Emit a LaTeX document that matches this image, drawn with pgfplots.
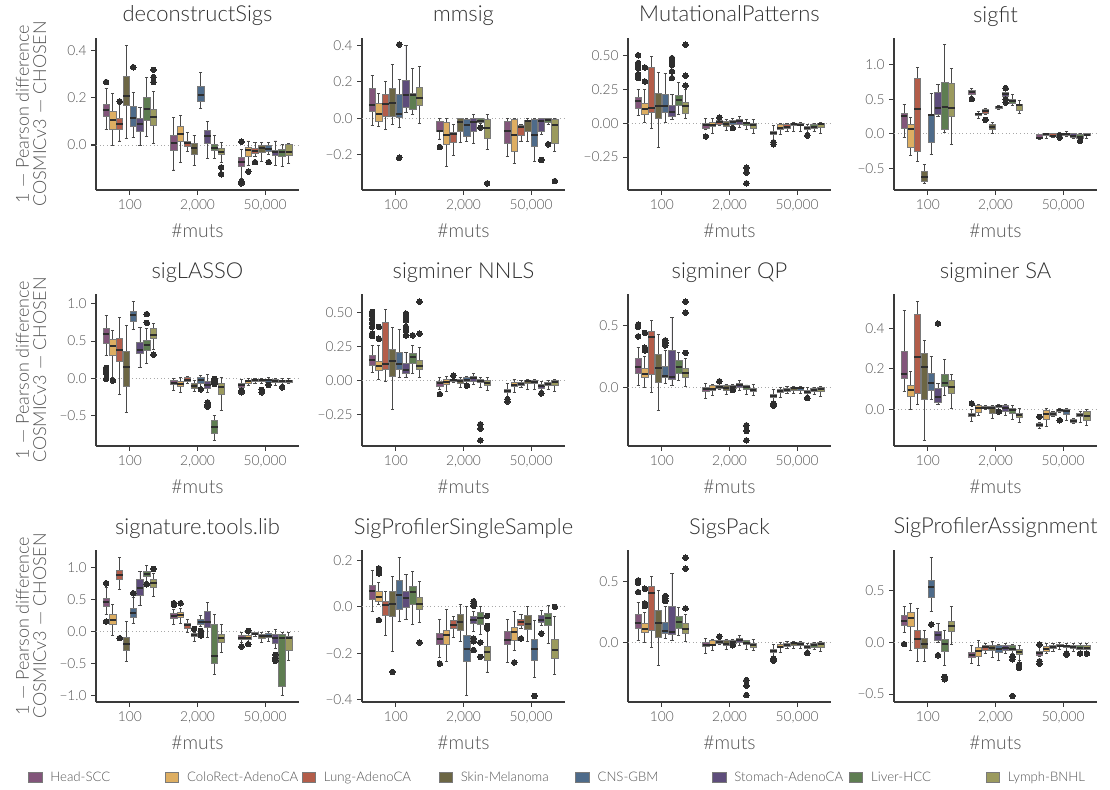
\documentclass[border=0pt]{standalone}
\usepackage{fontspec}
\setmainfont{Lato Light}
\usepackage{pgfplots}
\pgfplotsset{compat=1.18}
\usepgfplotslibrary{groupplots,statistics}
\usetikzlibrary{calc}

\definecolor{cA}{HTML}{82557A}
\definecolor{cB}{HTML}{DDAE62}
\definecolor{cC}{HTML}{B35D4A}
\definecolor{cD}{HTML}{6C6644}
\definecolor{cE}{HTML}{4E6B8A}
\definecolor{cF}{HTML}{5E4D7B}
\definecolor{cG}{HTML}{5E7D51}
\definecolor{cH}{HTML}{9B9A5E}
\definecolor{boxedge}{HTML}{7A7A7A}
\definecolor{whisk}{HTML}{4A4A4A}
\definecolor{medc}{HTML}{2E2E2E}
\definecolor{spine}{HTML}{3A3A3A}
\definecolor{ticktext}{HTML}{555555}
\definecolor{titletext}{HTML}{303030}
\definecolor{zerogray}{HTML}{A8A8A8}

\pgfplotsset{
  bxs/.style={forget plot, line width=0.6pt,
    boxplot/draw direction=y,
    boxplot/box extend=0.095, boxplot/whisker extend=0.045,
    boxplot/every box/.style={draw=boxedge},
    boxplot/every whisker/.style={draw=whisk, line width=0.7pt},
    boxplot/every median/.style={draw=medc, line width=1.5pt}},
  outl/.style={forget plot, only marks, mark=*, mark size=2.1pt,
    mark options={fill=medc, draw=medc, line width=0pt}},
  zeroline/.style={forget plot, draw=zerogray, dotted, line width=0.7pt},
}
% one box: position, colour, lower whisker, lower quartile, median, upper quartile, upper whisker
\newcommand{\bx}[7]{\addplot[bxs, fill=#2, boxplot prepared={draw position=#1,
  lower whisker=#3, lower quartile=#4, median=#5, upper quartile=#6, upper whisker=#7}] coordinates {};}
\newcommand{\zl}{\addplot[zeroline] coordinates {(-0.5,0) (2.5,0)};}

\begin{document}
\begin{tikzpicture}
\begin{groupplot}[
  group style={group name=G, group size=4 by 3, horizontal sep=47.25pt, vertical sep=78pt},
  scale only axis, width=152.25pt, height=114pt,
  xmin=-0.5, xmax=2.5, xtick={0,1,2}, xticklabels={100,{2,000},{50,000}},
  axis x line*=bottom, axis y line*=left,
  axis line style={-, draw=spine, line width=0.8pt},
  tick align=outside, major tick length=3.5pt,
  tick style={draw=spine, line width=0.8pt},
  minor tick num=0,
  tick label style={font=\fontsize{10.3}{12}\selectfont, text=ticktext},
  title style={font=\fontsize{16.5}{20}\selectfont, text=titletext, at={(axis description cs:0.5,1)}, anchor=base, yshift=6pt},
  xlabel style={font=\fontsize{14.5}{16}\selectfont, text=ticktext, yshift=-3pt},
  ylabel style={font=\fontsize{13.5}{13}\selectfont, text=ticktext, align=center, at={(axis description cs:-0.32,0.5)}, anchor=center},
  xlabel={\#muts},
]
% ---------------- deconstructSigs
\nextgroupplot[title={deconstructSigs}, ymin=-0.191, ymax=0.454, ytick={0,0.2,0.4}, yticklabels={0.0,0.2,0.4},
  ylabel={1 — Pearson difference\\COSMICv3 — CHOSEN}]
\zl
\bx{-0.35}{cA}{0.064}{0.12}{0.148}{0.172}{0.24}
\bx{-0.25}{cB}{-0.004}{0.066}{0.105}{0.144}{0.219}
\bx{-0.15}{cC}{0.017}{0.068}{0.088}{0.113}{0.17}
\bx{-0.05}{cD}{0.028}{0.17}{0.209}{0.29}{0.424}
\bx{0.05}{cE}{0.031}{0.081}{0.113}{0.163}{0.223}
\bx{0.15}{cF}{-0.004}{0.057}{0.088}{0.113}{0.158}
\bx{0.25}{cG}{0.038}{0.106}{0.153}{0.2}{0.288}
\bx{0.35}{cH}{0.007}{0.082}{0.117}{0.15}{0.226}
\bx{0.65}{cA}{-0.106}{-0.025}{0.007}{0.04}{0.116}
\bx{0.75}{cB}{-0.073}{0.017}{0.047}{0.079}{0.124}
\bx{0.85}{cC}{-0.027}{-0.008}{0.007}{0.017}{0.052}
\bx{0.95}{cD}{-0.085}{-0.042}{-0.014}{0.007}{0.042}
\bx{1.05}{cE}{0.155}{0.187}{0.212}{0.247}{0.307}
\bx{1.15}{cF}{-0.058}{0.007}{0.038}{0.061}{0.099}
\bx{1.25}{cG}{-0.057}{-0.025}{-0.011}{0.003}{0.042}
\bx{1.35}{cH}{-0.075}{-0.042}{-0.028}{-0.014}{0.011}
\bx{1.65}{cA}{-0.141}{-0.089}{-0.071}{-0.054}{-0.021}
\bx{1.75}{cB}{-0.085}{-0.047}{-0.021}{-0.011}{0.017}
\bx{1.85}{cC}{-0.049}{-0.035}{-0.024}{-0.014}{0.011}
\bx{1.95}{cD}{-0.068}{-0.031}{-0.014}{0.0}{0.01}
\bx{2.05}{cE}{-0.042}{-0.028}{-0.017}{0.0}{0.01}
\bx{2.15}{cF}{-0.088}{-0.045}{-0.028}{-0.021}{0.017}
\bx{2.25}{cG}{-0.092}{-0.049}{-0.028}{-0.017}{0.003}
\bx{2.35}{cH}{-0.078}{-0.045}{-0.028}{0.003}{0.007}
\addplot[outl] coordinates {(-0.35,0.267) (-0.15,0.185) (0.05,0.33) (0.35,0.319) (0.35,0.288) (0.35,0.267)
  (1.35,-0.095) (1.35,-0.124) (1.65,0.014) (1.65,-0.155) (1.65,-0.163) (1.75,-0.113) (1.85,-0.073) (2.05,-0.073)};
% ---------------- mmsig
\nextgroupplot[title={mmsig}, ymin=-0.394, ymax=0.44, ytick={-0.2,0,0.2,0.4}, yticklabels={−0.2,0.0,0.2,0.4}]
\zl
\bx{-0.35}{cA}{-0.04}{0.037}{0.07}{0.165}{0.235}
\bx{-0.25}{cB}{-0.046}{-0.015}{0.024}{0.079}{0.138}
\bx{-0.15}{cC}{-0.061}{0.009}{0.077}{0.128}{0.202}
\bx{-0.05}{cD}{-0.033}{0.009}{0.083}{0.161}{0.297}
\bx{0.05}{cE}{-0.051}{0.004}{0.024}{0.128}{0.213}
\bx{0.15}{cF}{0.033}{0.059}{0.128}{0.206}{0.4}
\bx{0.25}{cG}{0.022}{0.048}{0.125}{0.138}{0.275}
\bx{0.35}{cH}{-0.028}{0.068}{0.11}{0.169}{0.284}
\bx{0.65}{cA}{-0.114}{-0.073}{-0.07}{-0.018}{0.0}
\bx{0.75}{cB}{-0.266}{-0.143}{-0.092}{-0.022}{0.0}
\bx{0.85}{cC}{-0.202}{-0.132}{-0.088}{-0.079}{-0.037}
\bx{0.95}{cD}{-0.132}{-0.073}{-0.022}{0.0}{0.0}
\bx{1.05}{cE}{-0.128}{-0.101}{-0.04}{-0.004}{0.0}
\bx{1.15}{cF}{-0.138}{-0.073}{-0.022}{0.0}{0.018}
\bx{1.25}{cG}{-0.029}{-0.022}{-0.015}{0.0}{0.0}
\bx{1.35}{cH}{-0.174}{-0.11}{-0.055}{-0.004}{0.018}
\bx{1.65}{cA}{-0.211}{-0.138}{-0.07}{-0.018}{0.0}
\bx{1.75}{cB}{-0.248}{-0.183}{-0.092}{-0.004}{0.0}
\bx{1.85}{cC}{-0.125}{-0.092}{-0.051}{-0.037}{-0.033}
\bx{1.95}{cD}{-0.128}{-0.073}{-0.018}{-0.013}{0.0}
\bx{2.05}{cE}{-0.235}{-0.156}{-0.092}{-0.004}{0.0}
\bx{2.15}{cF}{-0.092}{-0.07}{-0.015}{0.0}{0.0}
\bx{2.25}{cG}{-0.037}{-0.022}{-0.009}{0.0}{0.0}
\bx{2.35}{cH}{-0.183}{-0.138}{-0.04}{-0.009}{0.0}
\addplot[outl] coordinates {(0.05,0.404) (0.05,-0.217) (0.65,-0.158) (1.25,-0.051) (1.35,-0.358)
  (2.15,-0.229) (2.25,-0.143) (2.35,-0.345)};
% ---------------- MutationalPatterns
\nextgroupplot[title={MutationalPatterns}, ymin=-0.492, ymax=0.627, ytick={-0.25,0,0.25,0.5}, yticklabels={−0.25,0.00,0.25,0.50}]
\zl
\bx{-0.35}{cA}{0.054}{0.111}{0.16}{0.189}{0.25}
\bx{-0.25}{cB}{0.007}{0.066}{0.106}{0.148}{0.246}
\bx{-0.15}{cC}{-0.037}{0.081}{0.111}{0.413}{0.492}
\bx{-0.05}{cD}{-0.18}{0.032}{0.123}{0.221}{0.376}
\bx{0.05}{cE}{0.007}{0.081}{0.123}{0.209}{0.369}
\bx{0.15}{cF}{0.025}{0.049}{0.081}{0.13}{0.209}
\bx{0.25}{cG}{0.061}{0.13}{0.172}{0.204}{0.302}
\bx{0.35}{cH}{0.037}{0.074}{0.123}{0.155}{0.246}
\bx{0.65}{cA}{-0.049}{-0.037}{-0.017}{0.0}{0.032}
\bx{0.75}{cB}{-0.079}{-0.025}{-0.017}{0.007}{0.032}
\bx{0.85}{cC}{-0.017}{-0.007}{0.007}{0.017}{0.022}
\bx{0.95}{cD}{-0.057}{-0.022}{-0.007}{0.012}{0.03}
\bx{1.05}{cE}{-0.017}{-0.007}{0.007}{0.017}{0.032}
\bx{1.15}{cF}{-0.032}{-0.007}{0.017}{0.025}{0.049}
\bx{1.25}{cG}{-0.049}{-0.017}{0.0}{0.007}{0.025}
\bx{1.35}{cH}{-0.074}{-0.037}{-0.017}{0.0}{0.025}
\bx{1.65}{cA}{-0.13}{-0.086}{-0.074}{-0.061}{-0.017}
\bx{1.75}{cB}{-0.086}{-0.049}{-0.032}{-0.012}{0.0}
\bx{1.85}{cC}{-0.061}{-0.037}{-0.025}{-0.012}{0.0}
\bx{1.95}{cD}{-0.061}{-0.017}{-0.007}{0.0}{0.005}
\bx{2.05}{cE}{-0.061}{-0.017}{-0.012}{0.0}{0.005}
\bx{2.15}{cF}{-0.066}{-0.049}{-0.037}{-0.025}{-0.012}
\bx{2.25}{cG}{-0.061}{-0.037}{-0.025}{-0.012}{0.0}
\bx{2.35}{cH}{-0.079}{-0.032}{-0.007}{0.0}{0.005}
\addplot[outl] coordinates {(-0.35,0.5) (-0.35,0.443) (-0.35,0.418) (-0.35,0.406) (-0.35,0.361) (-0.35,0.344) (-0.35,0.332)
  (-0.25,0.41) (-0.25,0.307) (0.15,0.479) (0.15,0.46) (0.15,0.43) (0.15,0.381) (0.15,0.332)
  (0.35,0.578) (0.35,0.349) (0.35,0.278) (0.65,-0.098) (0.85,0.042) (1.05,-0.037)
  (1.25,-0.327) (1.25,-0.364) (1.25,-0.443) (1.65,-0.14) (1.65,-0.155) (2.15,-0.091)};
% ---------------- sigfit
\nextgroupplot[title={sigfit}, ymin=-0.81, ymax=1.384, ytick={-0.5,0,0.5,1}, yticklabels={−0.5,0.0,0.5,1.0}]
\zl
\bx{-0.35}{cA}{-0.048}{0.082}{0.251}{0.299}{0.43}
\bx{-0.25}{cB}{-0.314}{-0.193}{0.068}{0.14}{0.236}
\bx{-0.15}{cC}{-0.4}{-0.246}{0.362}{0.806}{0.96}
\bx{-0.05}{cD}{-0.714}{-0.68}{-0.617}{-0.545}{-0.439}
\bx{0.05}{cE}{-0.304}{-0.121}{0.275}{0.285}{0.589}
\bx{0.15}{cF}{0.251}{0.275}{0.371}{0.603}{0.719}
\bx{0.25}{cG}{0.024}{0.058}{0.386}{0.743}{1.288}
\bx{0.35}{cH}{-0.15}{0.251}{0.371}{0.733}{0.941}
\bx{0.65}{cA}{0.54}{0.574}{0.603}{0.622}{0.661}
\bx{0.75}{cB}{0.227}{0.265}{0.285}{0.299}{0.323}
\bx{0.85}{cC}{0.275}{0.299}{0.333}{0.347}{0.362}
\bx{0.95}{cD}{0.01}{0.058}{0.106}{0.14}{0.169}
\bx{1.05}{cE}{0.347}{0.362}{0.381}{0.396}{0.405}
\bx{1.15}{cF}{0.516}{0.54}{0.574}{0.603}{0.62}
\bx{1.25}{cG}{0.41}{0.444}{0.478}{0.492}{0.564}
\bx{1.35}{cH}{0.299}{0.333}{0.41}{0.429}{0.482}
\bx{1.65}{cA}{-0.087}{-0.072}{-0.053}{-0.014}{-0.005}
\bx{1.75}{cB}{-0.072}{-0.029}{-0.005}{0.01}{0.01}
\bx{1.85}{cC}{-0.053}{-0.043}{-0.024}{0.0}{0.005}
\bx{1.95}{cD}{-0.045}{-0.029}{-0.005}{0.005}{0.019}
\bx{2.05}{cE}{-0.043}{-0.024}{-0.005}{0.005}{0.034}
\bx{2.15}{cF}{-0.072}{-0.053}{-0.024}{0.0}{0.005}
\bx{2.25}{cG}{-0.085}{-0.063}{-0.039}{-0.014}{0.005}
\bx{2.35}{cH}{-0.072}{-0.029}{-0.014}{0.0}{0.01}
\addplot[outl] coordinates {(0.65,0.502) (0.85,0.203) (1.15,0.661) (1.15,0.5) (1.15,0.453) (1.95,-0.053) (2.25,-0.101)};
% ---------------- sigLASSO
\nextgroupplot[title={sigLASSO}, ymin=-0.913, ymax=1.134, ytick={-0.5,0,0.5,1}, yticklabels={−0.5,0.0,0.5,1.0},
  ylabel={1 — Pearson difference\\COSMICv3 — CHOSEN}]
\zl
\bx{-0.35}{cA}{0.307}{0.465}{0.601}{0.669}{0.84}
\bx{-0.25}{cB}{0.005}{0.307}{0.429}{0.52}{0.637}
\bx{-0.15}{cC}{-0.221}{0.226}{0.384}{0.533}{0.813}
\bx{-0.05}{cD}{-0.461}{-0.104}{0.149}{0.366}{0.714}
\bx{0.05}{cE}{0.655}{0.768}{0.85}{0.895}{1.03}
\bx{0.15}{cF}{0.149}{0.339}{0.384}{0.488}{0.682}
\bx{0.25}{cG}{0.203}{0.375}{0.452}{0.511}{0.669}
\bx{0.35}{cH}{0.384}{0.533}{0.578}{0.669}{0.737}
\bx{0.65}{cA}{-0.167}{-0.086}{-0.068}{-0.032}{0.0}
\bx{0.75}{cB}{-0.19}{-0.108}{-0.077}{-0.041}{0.014}
\bx{0.85}{cC}{-0.068}{-0.041}{-0.023}{0.005}{0.023}
\bx{0.95}{cD}{-0.176}{-0.131}{-0.099}{-0.068}{-0.032}
\bx{1.05}{cE}{-0.122}{-0.068}{-0.023}{0.005}{0.036}
\bx{1.15}{cF}{-0.19}{-0.131}{-0.086}{-0.041}{0.05}
\bx{1.25}{cG}{-0.836}{-0.746}{-0.655}{-0.565}{-0.506}
\bx{1.35}{cH}{-0.438}{-0.221}{-0.122}{-0.068}{0.014}
\bx{1.65}{cA}{-0.14}{-0.122}{-0.09}{-0.068}{-0.023}
\bx{1.75}{cB}{-0.099}{-0.068}{-0.041}{-0.023}{-0.009}
\bx{1.85}{cC}{-0.068}{-0.041}{-0.023}{-0.014}{-0.009}
\bx{1.95}{cD}{-0.077}{-0.041}{-0.023}{-0.014}{-0.009}
\bx{2.05}{cE}{-0.077}{-0.054}{-0.023}{-0.014}{0.005}
\bx{2.15}{cF}{-0.099}{-0.054}{-0.032}{-0.014}{-0.009}
\bx{2.25}{cG}{-0.086}{-0.059}{-0.041}{-0.023}{-0.009}
\bx{2.35}{cH}{-0.077}{-0.054}{-0.032}{-0.023}{-0.009}
\addplot[outl] coordinates {(-0.35,0.14) (-0.35,0.104) (-0.35,0.068) (-0.35,-0.009) (-0.25,-0.032)
  (0.25,0.863) (0.25,0.746) (0.35,0.316) (1.05,-0.149) (1.15,-0.325) (1.15,-0.357) (1.15,-0.384)
  (1.25,-0.009) (1.25,-0.032) (1.25,-0.054) (1.25,-0.077)
  (1.65,-0.167) (1.65,-0.19) (1.95,-0.158) (1.95,-0.19) (2.05,-0.09) (2.25,-0.122)};
% ---------------- sigminer NNLS
\nextgroupplot[title={sigminer NNLS}, ymin=-0.481, ymax=0.637, ytick={-0.25,0,0.25,0.5}, yticklabels={−0.25,0.00,0.25,0.50}]
\zl
\bx{-0.35}{cA}{0.062}{0.111}{0.153}{0.185}{0.259}
\bx{-0.25}{cB}{0.005}{0.074}{0.111}{0.143}{0.259}
\bx{-0.15}{cC}{-0.005}{0.086}{0.123}{0.427}{0.523}
\bx{-0.05}{cD}{-0.21}{0.03}{0.143}{0.227}{0.39}
\bx{0.05}{cE}{0.02}{0.086}{0.123}{0.21}{0.375}
\bx{0.15}{cF}{0.02}{0.054}{0.079}{0.123}{0.21}
\bx{0.25}{cG}{0.049}{0.128}{0.173}{0.197}{0.259}
\bx{0.35}{cH}{0.02}{0.079}{0.111}{0.148}{0.242}
\bx{0.65}{cA}{-0.062}{-0.044}{-0.02}{-0.005}{0.025}
\bx{0.75}{cB}{-0.079}{-0.03}{-0.012}{0.012}{0.03}
\bx{0.85}{cC}{-0.015}{-0.005}{0.005}{0.012}{0.02}
\bx{0.95}{cD}{-0.054}{-0.02}{-0.005}{0.012}{0.02}
\bx{1.05}{cE}{-0.02}{-0.005}{0.005}{0.02}{0.03}
\bx{1.15}{cF}{-0.03}{-0.005}{0.02}{0.03}{0.049}
\bx{1.25}{cG}{-0.049}{-0.012}{0.0}{0.012}{0.02}
\bx{1.35}{cH}{-0.074}{-0.037}{-0.02}{0.0}{0.02}
\bx{1.65}{cA}{-0.123}{-0.086}{-0.074}{-0.062}{-0.02}
\bx{1.75}{cB}{-0.086}{-0.044}{-0.03}{-0.012}{0.005}
\bx{1.85}{cC}{-0.054}{-0.037}{-0.025}{-0.012}{0.0}
\bx{1.95}{cD}{-0.062}{-0.02}{-0.005}{0.0}{0.005}
\bx{2.05}{cE}{-0.062}{-0.02}{-0.01}{0.0}{0.005}
\bx{2.15}{cF}{-0.074}{-0.054}{-0.037}{-0.025}{-0.005}
\bx{2.25}{cG}{-0.062}{-0.037}{-0.025}{-0.012}{0.0}
\bx{2.35}{cH}{-0.079}{-0.037}{-0.012}{0.0}{0.005}
\addplot[outl] coordinates {(-0.35,0.506) (-0.35,0.481) (-0.35,0.456) (-0.35,0.424) (-0.35,0.395) (-0.35,0.345) (-0.35,0.328)
  (-0.25,0.395) (-0.25,0.308) (0.15,0.493) (0.15,0.469) (0.15,0.444) (0.15,0.395) (0.15,0.37) (0.15,0.333)
  (0.25,0.333) (0.35,0.58) (0.35,0.345) (0.65,-0.099) (0.85,0.037) (1.05,-0.037)
  (1.25,-0.321) (1.25,-0.353) (1.25,-0.439) (1.65,-0.136) (1.65,-0.153) (2.15,-0.094)};
% ---------------- sigminer QP
\nextgroupplot[title={sigminer QP}, ymin=-0.478, ymax=0.76, ytick={0,0.5}, yticklabels={0.0,0.5}]
\zl
\bx{-0.35}{cA}{0.014}{0.115}{0.164}{0.232}{0.328}
\bx{-0.25}{cB}{0.0}{0.082}{0.109}{0.156}{0.251}
\bx{-0.15}{cC}{-0.041}{0.104}{0.41}{0.459}{0.541}
\bx{-0.05}{cD}{-0.191}{0.041}{0.158}{0.265}{0.432}
\bx{0.05}{cE}{0.033}{0.077}{0.096}{0.169}{0.3}
\bx{0.15}{cF}{0.016}{0.063}{0.087}{0.3}{0.568}
\bx{0.25}{cG}{0.055}{0.115}{0.169}{0.219}{0.287}
\bx{0.35}{cH}{0.005}{0.077}{0.115}{0.156}{0.232}
\bx{0.65}{cA}{-0.087}{-0.033}{-0.016}{0.0}{0.033}
\bx{0.75}{cB}{-0.068}{-0.027}{-0.016}{0.014}{0.027}
\bx{0.85}{cC}{-0.016}{-0.005}{0.005}{0.014}{0.019}
\bx{0.95}{cD}{-0.055}{-0.027}{-0.008}{0.014}{0.022}
\bx{1.05}{cE}{-0.016}{-0.005}{0.005}{0.019}{0.027}
\bx{1.15}{cF}{-0.027}{0.0}{0.022}{0.033}{0.055}
\bx{1.25}{cG}{-0.055}{-0.019}{0.0}{0.014}{0.019}
\bx{1.35}{cH}{-0.068}{-0.036}{-0.019}{-0.005}{0.027}
\bx{1.65}{cA}{-0.123}{-0.082}{-0.068}{-0.055}{-0.014}
\bx{1.75}{cB}{-0.082}{-0.041}{-0.033}{-0.016}{0.0}
\bx{1.85}{cC}{-0.049}{-0.033}{-0.022}{-0.005}{0.005}
\bx{1.95}{cD}{-0.049}{-0.022}{-0.005}{0.0}{0.005}
\bx{2.05}{cE}{-0.049}{-0.022}{-0.008}{0.0}{0.005}
\bx{2.15}{cF}{-0.068}{-0.049}{-0.036}{-0.022}{-0.005}
\bx{2.25}{cG}{-0.06}{-0.036}{-0.022}{-0.008}{0.0}
\bx{2.35}{cH}{-0.077}{-0.036}{-0.014}{0.0}{0.005}
\addplot[outl] coordinates {(-0.35,0.511) (-0.35,0.492) (-0.35,0.415) (-0.25,0.443) (-0.25,0.322) (-0.25,0.3)
  (0.05,0.383) (0.05,0.361) (0.05,0.342) (0.35,0.697) (0.35,0.607) (0.35,0.281)
  (0.85,0.049) (1.05,-0.022) (1.25,-0.309) (1.25,-0.355) (1.25,-0.432) (1.65,-0.131) (1.65,-0.15) (2.15,-0.087)};
% ---------------- sigminer SA
\nextgroupplot[title={sigminer SA}, ymin=-0.183, ymax=0.572, ytick={0,0.2,0.4}, yticklabels={0.0,0.2,0.4}]
\zl
\bx{-0.35}{cA}{0.088}{0.155}{0.175}{0.288}{0.488}
\bx{-0.25}{cB}{-0.003}{0.062}{0.095}{0.12}{0.187}
\bx{-0.15}{cC}{0.022}{0.078}{0.258}{0.472}{0.533}
\bx{-0.05}{cD}{-0.155}{0.05}{0.208}{0.275}{0.342}
\bx{0.05}{cE}{0.05}{0.092}{0.128}{0.18}{0.263}
\bx{0.15}{cF}{0.022}{0.033}{0.058}{0.103}{0.128}
\bx{0.25}{cG}{0.067}{0.112}{0.128}{0.172}{0.247}
\bx{0.35}{cH}{0.005}{0.078}{0.112}{0.145}{0.172}
\bx{0.65}{cA}{-0.062}{-0.038}{-0.03}{-0.022}{0.0}
\bx{0.75}{cB}{-0.033}{-0.017}{0.008}{0.017}{0.025}
\bx{0.85}{cC}{0.0}{0.005}{0.008}{0.013}{0.017}
\bx{0.95}{cD}{-0.045}{-0.022}{0.008}{0.013}{0.017}
\bx{1.05}{cE}{0.0}{0.008}{0.017}{0.017}{0.025}
\bx{1.15}{cF}{-0.033}{-0.012}{0.008}{0.02}{0.025}
\bx{1.25}{cG}{-0.05}{-0.022}{-0.005}{0.005}{0.017}
\bx{1.35}{cH}{-0.067}{-0.042}{-0.028}{-0.022}{0.005}
\bx{1.65}{cA}{-0.095}{-0.088}{-0.08}{-0.072}{-0.067}
\bx{1.75}{cB}{-0.088}{-0.05}{-0.022}{-0.005}{0.005}
\bx{1.85}{cC}{-0.038}{-0.033}{-0.025}{-0.017}{-0.012}
\bx{1.95}{cD}{-0.017}{-0.012}{-0.005}{0.0}{0.005}
\bx{2.05}{cE}{-0.055}{-0.025}{-0.008}{0.0}{0.005}
\bx{2.15}{cF}{-0.072}{-0.067}{-0.058}{-0.05}{-0.045}
\bx{2.25}{cG}{-0.067}{-0.038}{-0.028}{-0.022}{-0.012}
\bx{2.35}{cH}{-0.083}{-0.055}{-0.033}{-0.012}{0.0}
\addplot[outl] coordinates {(0.15,0.425) (0.65,0.028) (1.05,-0.012) (1.65,-0.038) (1.95,-0.055)};
% ---------------- signature.tools.lib
\nextgroupplot[title={signature.tools.lib}, ymin=-1.104, ymax=1.276, ytick={-1,-0.5,0,0.5,1}, yticklabels={−1.0,−0.5,0.0,0.5,1.0},
  ylabel={1 — Pearson difference\\COSMICv3 — CHOSEN},
  legend style={at={(axis description cs:-0.335,-0.5)}, anchor=west, draw=none, fill=none, inner sep=0pt,
    legend columns=8, font=\fontsize{9.9}{11}\selectfont, text=ticktext,
    /tikz/every odd column/.append style={column sep=4pt},
    /tikz/every even column/.append style={column sep=0pt}},
  legend cell align=left,
  legend image code/.code={\draw[#1, draw=boxedge, line width=0.6pt] (0pt,-3.6pt) rectangle (10pt,4pt);}]
\addlegendimage{fill=cA}\addlegendentry{\makebox[84pt][l]{Head-SCC}}
\addlegendimage{fill=cB}\addlegendentry{\makebox[84pt][l]{ColoRect-AdenoCA}}
\addlegendimage{fill=cC}\addlegendentry{\makebox[84pt][l]{Lung-AdenoCA}}
\addlegendimage{fill=cD}\addlegendentry{\makebox[84pt][l]{Skin-Melanoma}}
\addlegendimage{fill=cE}\addlegendentry{\makebox[84pt][l]{CNS-GBM}}
\addlegendimage{fill=cF}\addlegendentry{\makebox[84pt][l]{Stomach-AdenoCA}}
\addlegendimage{fill=cG}\addlegendentry{\makebox[84pt][l]{Liver-HCC}}
\addlegendimage{fill=cH}\addlegendentry{Lymph-BNHL}
\zl
\bx{-0.35}{cA}{0.271}{0.391}{0.469}{0.521}{0.688}
\bx{-0.25}{cB}{-0.063}{0.115}{0.182}{0.26}{0.427}
\bx{-0.15}{cC}{0.651}{0.818}{0.885}{0.964}{1.156}
\bx{-0.05}{cD}{-0.469}{-0.302}{-0.198}{-0.094}{0.156}
\bx{0.05}{cE}{0.13}{0.219}{0.286}{0.365}{0.531}
\bx{0.15}{cF}{0.406}{0.573}{0.688}{0.823}{0.938}
\bx{0.25}{cG}{0.79}{0.859}{0.896}{0.938}{1.031}
\bx{0.35}{cH}{0.547}{0.688}{0.755}{0.818}{0.911}
\bx{0.65}{cA}{0.104}{0.208}{0.25}{0.286}{0.339}
\bx{0.75}{cB}{0.13}{0.219}{0.26}{0.297}{0.36}
\bx{0.85}{cC}{-0.01}{0.052}{0.094}{0.12}{0.182}
\bx{0.95}{cD}{-0.156}{-0.078}{-0.052}{-0.026}{-0.01}
\bx{1.05}{cE}{0.078}{0.115}{0.146}{0.182}{0.245}
\bx{1.15}{cF}{-0.094}{0.063}{0.146}{0.313}{0.458}
\bx{1.25}{cG}{-0.677}{-0.495}{-0.391}{0.104}{0.271}
\bx{1.35}{cH}{-0.323}{-0.167}{-0.104}{-0.042}{0.104}
\bx{1.65}{cA}{-0.167}{-0.13}{-0.094}{-0.063}{-0.01}
\bx{1.75}{cB}{-0.167}{-0.13}{-0.094}{-0.063}{-0.01}
\bx{1.85}{cC}{-0.073}{-0.052}{-0.042}{-0.021}{-0.01}
\bx{1.95}{cD}{-0.167}{-0.115}{-0.078}{-0.042}{-0.01}
\bx{2.05}{cE}{-0.156}{-0.094}{-0.063}{-0.026}{0.0}
\bx{2.15}{cF}{-0.26}{-0.182}{-0.104}{-0.042}{0.026}
\bx{2.25}{cG}{-1.0}{-0.859}{-0.094}{-0.052}{-0.01}
\bx{2.35}{cH}{-0.458}{-0.302}{-0.104}{-0.078}{-0.01}
\addplot[outl] coordinates {(-0.35,0.755) (-0.35,0.156) (-0.15,-0.104) (0.05,0.599) (0.25,0.74) (0.35,0.979)
  (0.65,0.443) (0.65,0.417) (0.75,0.443) (0.95,0.042) (1.05,0.01) (1.05,-0.042) (1.05,-0.063)
  (1.65,-0.234) (1.75,0.01) (1.75,-0.198) (2.15,-0.365) (2.15,-0.417) (2.15,-0.458)};
% ---------------- SigProfilerSingleSample
\nextgroupplot[title={SigProfilerSingleSample}, ymin=-0.409, ymax=0.244, ytick={-0.4,-0.2,0,0.2}, yticklabels={−0.4,−0.2,0.0,0.2}]
\zl
\bx{-0.35}{cA}{-0.019}{0.033}{0.067}{0.09}{0.158}
\bx{-0.25}{cB}{0.01}{0.022}{0.043}{0.067}{0.105}
\bx{-0.15}{cC}{-0.125}{-0.039}{0.007}{0.024}{0.067}
\bx{-0.05}{cD}{-0.191}{-0.04}{0.014}{0.065}{0.129}
\bx{0.05}{cE}{-0.065}{-0.01}{0.05}{0.115}{0.211}
\bx{0.15}{cF}{-0.053}{-0.003}{0.039}{0.065}{0.139}
\bx{0.25}{cG}{-0.076}{0.01}{0.062}{0.086}{0.153}
\bx{0.35}{cH}{-0.067}{-0.01}{0.011}{0.039}{0.108}
\bx{0.65}{cA}{-0.219}{-0.162}{-0.139}{-0.115}{-0.053}
\bx{0.75}{cB}{-0.234}{-0.162}{-0.122}{-0.1}{-0.01}
\bx{0.85}{cC}{-0.133}{-0.093}{-0.079}{-0.057}{-0.043}
\bx{0.95}{cD}{-0.151}{-0.1}{-0.067}{-0.033}{0.01}
\bx{1.05}{cE}{-0.38}{-0.234}{-0.182}{-0.122}{0.0}
\bx{1.15}{cF}{-0.105}{-0.072}{-0.057}{-0.043}{-0.019}
\bx{1.25}{cG}{-0.119}{-0.076}{-0.047}{-0.024}{0.0}
\bx{1.35}{cH}{-0.28}{-0.229}{-0.196}{-0.172}{-0.105}
\bx{1.65}{cA}{-0.239}{-0.162}{-0.143}{-0.105}{-0.053}
\bx{1.75}{cB}{-0.186}{-0.143}{-0.11}{-0.09}{-0.022}
\bx{1.85}{cC}{-0.093}{-0.079}{-0.065}{-0.053}{-0.033}
\bx{1.95}{cD}{-0.151}{-0.096}{-0.072}{-0.039}{0.0}
\bx{2.05}{cE}{-0.305}{-0.229}{-0.182}{-0.139}{-0.057}
\bx{2.15}{cF}{-0.079}{-0.067}{-0.057}{-0.039}{-0.014}
\bx{2.25}{cG}{-0.158}{-0.079}{-0.047}{-0.029}{0.004}
\bx{2.35}{cH}{-0.291}{-0.222}{-0.186}{-0.139}{-0.043}
\addplot[outl] coordinates {(-0.25,0.165) (-0.25,0.153) (-0.25,0.143) (-0.25,-0.057) (-0.05,-0.28) (0.35,-0.153)
  (0.65,-0.244) (1.15,0.024) (1.15,0.014) (1.15,0.004) (1.15,-0.136) (1.15,-0.148) (1.15,-0.186)
  (1.25,-0.153) (1.25,-0.215) (1.35,-0.039) (1.35,-0.082) (1.35,-0.093)
  (1.75,-0.239) (1.85,-0.136) (2.05,-0.383) (2.15,-0.115) (2.35,0.0)};
% ---------------- SigsPack
\nextgroupplot[title={SigsPack}, ymin=-0.489, ymax=0.761, ytick={0,0.5}, yticklabels={0.0,0.5}]
\zl
\bx{-0.35}{cA}{0.014}{0.115}{0.164}{0.232}{0.328}
\bx{-0.25}{cB}{0.0}{0.082}{0.109}{0.156}{0.251}
\bx{-0.15}{cC}{-0.041}{0.104}{0.41}{0.459}{0.541}
\bx{-0.05}{cD}{-0.191}{0.041}{0.158}{0.265}{0.432}
\bx{0.05}{cE}{0.033}{0.077}{0.096}{0.169}{0.3}
\bx{0.15}{cF}{0.016}{0.063}{0.087}{0.3}{0.568}
\bx{0.25}{cG}{0.055}{0.115}{0.169}{0.219}{0.287}
\bx{0.35}{cH}{0.005}{0.077}{0.115}{0.156}{0.232}
\bx{0.65}{cA}{-0.087}{-0.033}{-0.016}{0.0}{0.033}
\bx{0.75}{cB}{-0.068}{-0.027}{-0.016}{0.014}{0.027}
\bx{0.85}{cC}{-0.016}{-0.005}{0.005}{0.014}{0.019}
\bx{0.95}{cD}{-0.055}{-0.027}{-0.008}{0.014}{0.022}
\bx{1.05}{cE}{-0.016}{-0.005}{0.005}{0.019}{0.027}
\bx{1.15}{cF}{-0.027}{0.0}{0.022}{0.033}{0.055}
\bx{1.25}{cG}{-0.055}{-0.019}{0.0}{0.014}{0.019}
\bx{1.35}{cH}{-0.068}{-0.036}{-0.019}{-0.005}{0.027}
\bx{1.65}{cA}{-0.123}{-0.082}{-0.068}{-0.055}{-0.014}
\bx{1.75}{cB}{-0.082}{-0.041}{-0.033}{-0.016}{0.0}
\bx{1.85}{cC}{-0.049}{-0.033}{-0.022}{-0.005}{0.005}
\bx{1.95}{cD}{-0.049}{-0.022}{-0.005}{0.0}{0.005}
\bx{2.05}{cE}{-0.049}{-0.022}{-0.008}{0.0}{0.005}
\bx{2.15}{cF}{-0.068}{-0.049}{-0.036}{-0.022}{-0.005}
\bx{2.25}{cG}{-0.06}{-0.036}{-0.022}{-0.008}{0.0}
\bx{2.35}{cH}{-0.077}{-0.036}{-0.014}{0.0}{0.005}
\addplot[outl] coordinates {(-0.35,0.511) (-0.35,0.492) (-0.35,0.415) (-0.25,0.443) (-0.25,0.322) (-0.25,0.3)
  (0.05,0.383) (0.05,0.361) (0.05,0.342) (0.35,0.697) (0.35,0.607) (0.35,0.281)
  (0.85,0.049) (1.05,-0.022) (1.25,-0.309) (1.25,-0.355) (1.25,-0.432) (1.65,-0.131) (1.65,-0.15) (2.15,-0.087)};
% ---------------- SigProfilerAssignment
\nextgroupplot[title={SigProfilerAssignment}, ymin=-0.576, ymax=0.896, ytick={-0.5,0,0.5}, yticklabels={−0.5,0.0,0.5}]
\zl
\bx{-0.35}{cA}{0.097}{0.168}{0.207}{0.259}{0.346}
\bx{-0.25}{cB}{-0.074}{0.152}{0.239}{0.291}{0.379}
\bx{-0.15}{cC}{-0.181}{-0.058}{0.032}{0.12}{0.33}
\bx{-0.05}{cD}{-0.181}{-0.058}{-0.01}{0.039}{0.12}
\bx{0.05}{cE}{0.298}{0.434}{0.54}{0.605}{0.822}
\bx{0.15}{cF}{0.0}{0.023}{0.071}{0.104}{0.184}
\bx{0.25}{cG}{-0.227}{-0.084}{-0.019}{0.029}{0.12}
\bx{0.35}{cH}{-0.019}{0.11}{0.162}{0.201}{0.346}
\bx{0.65}{cA}{-0.204}{-0.149}{-0.117}{-0.097}{-0.026}
\bx{0.75}{cB}{-0.227}{-0.139}{-0.084}{-0.052}{0.023}
\bx{0.85}{cC}{-0.107}{-0.074}{-0.042}{-0.026}{-0.01}
\bx{0.95}{cD}{-0.149}{-0.074}{-0.052}{-0.032}{0.006}
\bx{1.05}{cE}{-0.172}{-0.097}{-0.058}{-0.032}{-0.019}
\bx{1.15}{cF}{-0.107}{-0.074}{-0.052}{-0.032}{-0.01}
\bx{1.25}{cG}{-0.107}{-0.074}{-0.058}{-0.032}{-0.019}
\bx{1.35}{cH}{-0.172}{-0.117}{-0.091}{-0.065}{-0.032}
\bx{1.65}{cA}{-0.139}{-0.123}{-0.097}{-0.084}{-0.05}
\bx{1.75}{cB}{-0.107}{-0.084}{-0.058}{-0.042}{-0.01}
\bx{1.85}{cC}{-0.084}{-0.058}{-0.042}{-0.026}{-0.01}
\bx{1.95}{cD}{-0.065}{-0.042}{-0.032}{-0.016}{0.0}
\bx{2.05}{cE}{-0.084}{-0.052}{-0.032}{-0.026}{-0.01}
\bx{2.15}{cF}{-0.084}{-0.058}{-0.042}{-0.026}{-0.01}
\bx{2.25}{cG}{-0.091}{-0.065}{-0.052}{-0.032}{-0.01}
\bx{2.35}{cH}{-0.084}{-0.065}{-0.052}{-0.032}{-0.01}
\addplot[outl] coordinates {(-0.35,-0.016) (0.05,0.175) (0.15,-0.123) (0.25,-0.333) (0.25,-0.356)
  (1.25,-0.139) (1.25,-0.162) (1.25,-0.518) (1.35,-0.214) (1.35,-0.246)
  (1.65,-0.019) (1.65,-0.181) (1.65,-0.204) (2.05,-0.105) (2.05,-0.117) (2.25,-0.107) (2.35,-0.107)};
\end{groupplot}
\pgfresetboundingbox
\path[use as bounding box] ($(G c1r1.north west)+(-72pt,28.5pt)$) rectangle ++(832.5pt,-591.75pt);
\end{tikzpicture}
\end{document}
